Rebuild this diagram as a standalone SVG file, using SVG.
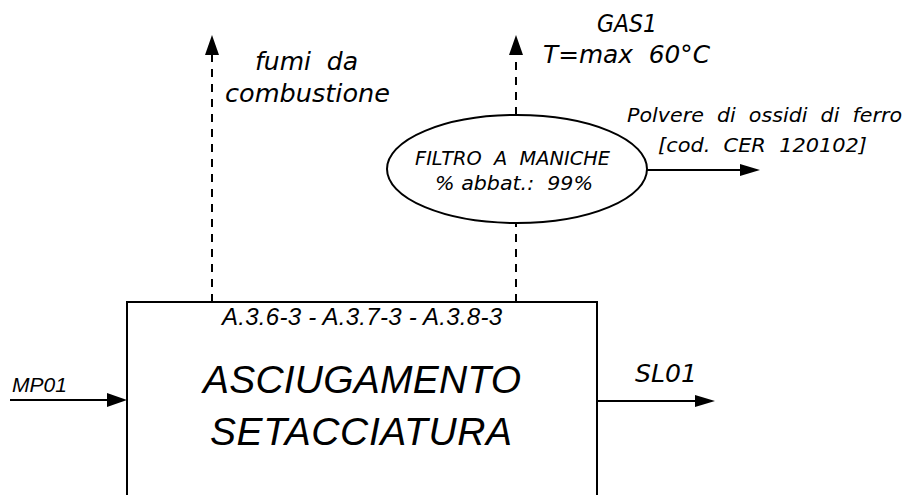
<svg xmlns="http://www.w3.org/2000/svg" width="906" height="495" viewBox="0 0 906 495">
<style>
.ln{stroke:#000;stroke-width:2;fill:none}
.dash{stroke:#000;stroke-width:2;fill:none;stroke-dasharray:8 7}
.ah{fill:#000;stroke:none}
.t{font-family:"Liberation Sans",Arial,sans-serif;font-style:italic;fill:#000;white-space:pre}
.c{font-family:"DejaVu Sans","Liberation Sans",sans-serif;font-style:oblique;fill:#000;white-space:pre}
</style>
<rect width="906" height="495" fill="#fff"/>
<g id="connectors">
<line class="dash" x1="212" y1="302" x2="212" y2="54"/>
<polygon class="ah" points="212,35 205,55 219,55"/>
<line class="dash" x1="516" y1="302" x2="516" y2="223"/>
<line class="dash" x1="516" y1="115" x2="516" y2="54"/>
<polygon class="ah" points="516,35 509,55 523,55"/>
<line class="ln" x1="646" y1="170" x2="742" y2="170"/>
<polygon class="ah" points="760,170 740,164 740,176"/>
<line class="ln" x1="10" y1="400" x2="109" y2="400"/>
<polygon class="ah" points="127,400 107,393 107,407"/>
<line class="ln" x1="597" y1="401" x2="697" y2="401"/>
<polygon class="ah" points="715,401 695,395 695,407"/>
</g>
<g id="fumi-label">
<text class="c" x="255" y="70" font-size="25" textLength="103" lengthAdjust="spacingAndGlyphs" xml:space="preserve">fumi  da</text>
<text class="c" x="225" y="102" font-size="25" textLength="165" lengthAdjust="spacingAndGlyphs">combustione</text>
</g>
<g id="gas1-label">
<text class="c" x="597" y="32" font-size="24" textLength="60" lengthAdjust="spacingAndGlyphs">GAS1</text>
<text class="c" x="543" y="63" font-size="24" textLength="167" lengthAdjust="spacingAndGlyphs" xml:space="preserve">T=max  60°C</text>
</g>
<g id="polvere-label">
<text class="c" x="627" y="122" font-size="20" textLength="275" lengthAdjust="spacingAndGlyphs" xml:space="preserve">Polvere  di  ossidi  di  ferro</text>
<text class="c" x="658" y="152" font-size="20" textLength="209" lengthAdjust="spacingAndGlyphs" xml:space="preserve">[cod.  CER  120102]</text>
</g>
<g id="filtro">
<ellipse class="ln" cx="517" cy="169" rx="130" ry="54"/>
<text class="c" x="415" y="165" font-size="20" textLength="195" lengthAdjust="spacingAndGlyphs" xml:space="preserve">FILTRO  A  MANICHE</text>
<text class="c" x="435" y="190" font-size="20" textLength="158" lengthAdjust="spacingAndGlyphs" xml:space="preserve">% abbat.:  99%</text>
</g>
<g id="asciugamento">
<polyline class="ln" points="127,496 127,302 597,302 597,496"/>
<text class="t" x="362" y="325" font-size="24" text-anchor="middle" textLength="280" lengthAdjust="spacing">A.3.6-3 - A.3.7-3 - A.3.8-3</text>
<text class="t" x="362" y="393" font-size="39" text-anchor="middle" textLength="318" lengthAdjust="spacing">ASCIUGAMENTO</text>
<text class="t" x="361" y="445" font-size="39" text-anchor="middle" textLength="302" lengthAdjust="spacing">SETACCIATURA</text>
</g>
<g id="mp01-label">
<text class="t" x="12" y="392" font-size="21" textLength="55" lengthAdjust="spacing">MP01</text>
</g>
<g id="sl01-label">
<text class="c" x="635" y="382" font-size="24" textLength="62" lengthAdjust="spacingAndGlyphs">SL01</text>
</g>
</svg>
